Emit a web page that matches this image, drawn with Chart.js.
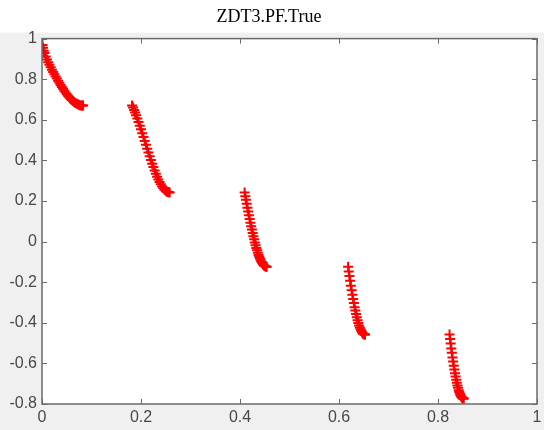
<!DOCTYPE html>
<html lang="en">
<head>
    <meta charset="UTF-8">
    <title>ZDT3.PF.True</title>
    <script src="https://cdn.jsdelivr.net/npm/chart.js"></script>
    <style>
        body { margin: 0; padding: 0; background: #fff; overflow: hidden; }
        canvas { display: block; }
    </style>
</head>
<body>
    <canvas id="pfChart" width="544" height="430"></canvas>

    <script>
        // points, five separate pieces
        const seg1X = [0, 0.001, 0.002, 0.0035, 0.005, 0.0075, 0.01, 0.0125, 0.015, 0.0175, 0.02, 0.0225, 0.025, 0.0275, 0.03, 0.0325, 0.035, 0.0375, 0.04, 0.0425, 0.045, 0.0475, 0.05, 0.0525, 0.055, 0.0575, 0.06, 0.0625, 0.065, 0.0675, 0.07, 0.0725, 0.075, 0.0775, 0.08, 0.0815, 0.083];
        const seg1Y = [1, 0.968, 0.955, 0.940, 0.929, 0.912, 0.897, 0.883, 0.871, 0.859, 0.847, 0.835, 0.824, 0.813, 0.803, 0.792, 0.782, 0.772, 0.762, 0.753, 0.743, 0.735, 0.726, 0.719, 0.711, 0.704, 0.698, 0.692, 0.687, 0.683, 0.679, 0.676, 0.673, 0.671, 0.670, 0.670, 0.670];
        const seg2X = [0.182, 0.184, 0.186, 0.188, 0.19, 0.1925, 0.195, 0.1975, 0.2, 0.2025, 0.205, 0.2075, 0.21, 0.2125, 0.215, 0.2175, 0.22, 0.2225, 0.225, 0.2275, 0.23, 0.2325, 0.235, 0.2375, 0.24, 0.2425, 0.245, 0.2475, 0.25, 0.2522, 0.2545, 0.2562, 0.2578];
        const seg2Y = [0.671, 0.660, 0.648, 0.636, 0.623, 0.606, 0.589, 0.571, 0.553, 0.534, 0.515, 0.496, 0.477, 0.458, 0.439, 0.420, 0.402, 0.384, 0.367, 0.350, 0.334, 0.320, 0.306, 0.293, 0.282, 0.272, 0.263, 0.256, 0.250, 0.246, 0.244, 0.243, 0.242];
        const seg3X = [0.4093, 0.4107, 0.412, 0.4135, 0.415, 0.4165, 0.418, 0.4195, 0.421, 0.4225, 0.424, 0.4255, 0.427, 0.4285, 0.43, 0.4315, 0.433, 0.4345, 0.436, 0.4375, 0.439, 0.4405, 0.442, 0.4435, 0.445, 0.4465, 0.448, 0.4495, 0.451, 0.4525, 0.4539];
        const seg3Y = [0.242, 0.224, 0.206, 0.187, 0.167, 0.148, 0.130, 0.111, 0.093, 0.076, 0.059, 0.042, 0.026, 0.011, -0.004, -0.018, -0.031, -0.043, -0.055, -0.066, -0.076, -0.085, -0.093, -0.100, -0.107, -0.112, -0.116, -0.120, -0.122, -0.124, -0.124];
        const seg4X = [0.6184, 0.6197, 0.621, 0.6225, 0.624, 0.6255, 0.627, 0.6285, 0.63, 0.6315, 0.633, 0.6345, 0.636, 0.6375, 0.639, 0.6405, 0.642, 0.6435, 0.645, 0.6465, 0.648, 0.6492, 0.6505, 0.6515, 0.6525];
        const seg4Y = [-0.124, -0.147, -0.169, -0.193, -0.217, -0.240, -0.262, -0.283, -0.303, -0.323, -0.340, -0.357, -0.373, -0.387, -0.401, -0.413, -0.423, -0.432, -0.440, -0.447, -0.452, -0.455, -0.457, -0.458, -0.458];
        const seg5X = [0.8233, 0.8244, 0.8255, 0.8268, 0.828, 0.8293, 0.8305, 0.8318, 0.833, 0.8343, 0.8355, 0.8368, 0.838, 0.8393, 0.8405, 0.8418, 0.843, 0.8443, 0.8455, 0.8468, 0.848, 0.8493, 0.8505, 0.8512, 0.8518];
        const seg5Y = [-0.458, -0.480, -0.502, -0.526, -0.548, -0.571, -0.591, -0.612, -0.630, -0.648, -0.664, -0.681, -0.695, -0.709, -0.720, -0.732, -0.741, -0.750, -0.757, -0.763, -0.767, -0.771, -0.773, -0.773, -0.773];

        const xTicks = [0, 0.2, 0.4, 0.6, 0.8, 1];
        const yTicks = [-0.8, -0.6, -0.4, -0.2, 0, 0.2, 0.4, 0.6, 0.8, 1];

        const allX = [].concat(seg1X, seg2X, seg3X, seg4X, seg5X);
        const allY = [].concat(seg1Y, seg2Y, seg3Y, seg4Y, seg5Y);
        const points = allX.map((x, i) => ({ x: x, y: allY[i] }));

        // matlab style: grey figure, white axes, box with inward ticks
        const matlabBox = {
            id: 'matlabBox',
            beforeDraw(chart) {
                const { ctx, chartArea: a, width, height } = chart;
                ctx.save();
                ctx.fillStyle = '#fff';
                ctx.fillRect(0, 0, width, height);
                ctx.fillStyle = '#f0f0f0';
                ctx.fillRect(0, a.top - 6, width, height - a.top + 6);
                ctx.fillStyle = '#fff';
                ctx.fillRect(a.left, a.top, a.right - a.left, a.bottom - a.top);
                ctx.restore();
            },
            afterDraw(chart) {
                const { ctx, chartArea: a, scales } = chart;
                ctx.save();
                ctx.strokeStyle = '#6a6a6a';
                ctx.lineWidth = 1.5;
                ctx.strokeRect(a.left, a.top, a.right - a.left, a.bottom - a.top);
                ctx.lineWidth = 1;
                ctx.beginPath();
                xTicks.forEach(v => {
                    const px = Math.round(scales.x.getPixelForValue(v)) + 0.5;
                    ctx.moveTo(px, a.bottom); ctx.lineTo(px, a.bottom - 5);
                    ctx.moveTo(px, a.top); ctx.lineTo(px, a.top + 5);
                });
                yTicks.forEach(v => {
                    const py = Math.round(scales.y.getPixelForValue(v)) + 0.5;
                    ctx.moveTo(a.left, py); ctx.lineTo(a.left + 5, py);
                    ctx.moveTo(a.right, py); ctx.lineTo(a.right - 5, py);
                });
                ctx.stroke();
                ctx.restore();
            }
        };

        const tickFont = { family: '"Liberation Sans", Arial, sans-serif', size: 16 };

        const ctx = document.getElementById('pfChart').getContext('2d');
        const chart = new Chart(ctx, {
            type: 'scatter',
            data: {
                datasets: [{
                    label: 'PF',
                    data: points,
                    pointStyle: 'cross',
                    pointRadius: 5,
                    pointBorderWidth: 2,
                    borderColor: '#ff0000',
                    backgroundColor: '#ff0000'
                }]
            },
            options: {
                responsive: false,
                animation: false,
                events: [],
                layout: { padding: { left: 0, right: 6, top: 0, bottom: 0 } },
                scales: {
                    x: {
                        type: 'linear',
                        min: 0,
                        max: 1,
                        grid: { display: false, drawTicks: false },
                        border: { display: false },
                        afterBuildTicks: s => { s.ticks = xTicks.map(v => ({ value: v })); },
                        afterFit: s => { s.height = 26; s.paddingRight = 0; s.paddingLeft = 0; },
                        ticks: {
                            color: '#484848',
                            font: tickFont,
                            padding: 4,
                            maxRotation: 0,
                            callback: v => String(Math.round(v * 10) / 10)
                        }
                    },
                    y: {
                        type: 'linear',
                        min: -0.8,
                        max: 1,
                        grid: { display: false, drawTicks: false },
                        border: { display: false },
                        afterBuildTicks: s => { s.ticks = yTicks.map(v => ({ value: v })); },
                        afterFit: s => { s.width = 42; s.paddingTop = 0; s.paddingBottom = 0; },
                        ticks: {
                            color: '#484848',
                            font: tickFont,
                            padding: 5,
                            callback: v => String(Math.round(v * 10) / 10)
                        }
                    }
                },
                plugins: {
                    legend: { display: false },
                    tooltip: { enabled: false },
                    title: {
                        display: true,
                        text: 'ZDT3.PF.True',
                        color: '#000',
                        font: { family: '"Liberation Serif", "Times New Roman", serif', size: 18, weight: 'normal' },
                        padding: { top: 6, bottom: 11 }
                    }
                }
            },
            plugins: [matlabBox]
        });
    </script>
</body>
</html>
